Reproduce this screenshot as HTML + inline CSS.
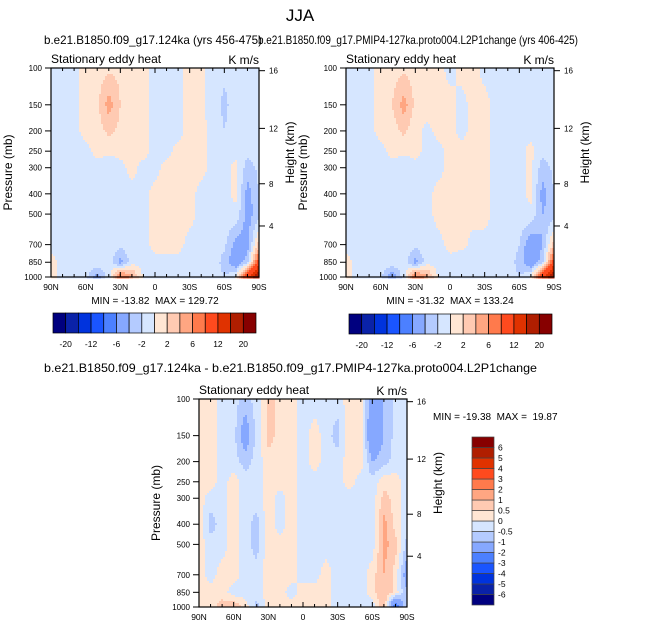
<!DOCTYPE html>
<html><head><meta charset="utf-8">
<style>
html,body{margin:0;padding:0;background:#fff;}
svg{display:block;font-family:"Liberation Sans",sans-serif;}
text{white-space:pre;}
</style></head>
<body>
<svg id="fig" width="647" height="630" viewBox="0 0 647 630" xmlns="http://www.w3.org/2000/svg">
<text x="300" y="21" font-size="17" text-anchor="middle">JJA</text>
<text x="44" y="44" font-size="12" textLength="218" lengthAdjust="spacingAndGlyphs">b.e21.B1850.f09_g17.124ka (yrs 456-475)</text>
<text x="258" y="44" font-size="12" textLength="320" lengthAdjust="spacingAndGlyphs">b.e21.B1850.f09_g17.PMIP4-127ka.proto004.L2P1change (yrs 406-425)</text>
<text x="44" y="372" font-size="12" textLength="493" lengthAdjust="spacingAndGlyphs">b.e21.B1850.f09_g17.124ka - b.e21.B1850.f09_g17.PMIP4-127ka.proto004.L2P1change</text>
<g id="p1"></g>
<g id="p2"></g>
<g id="p3"></g>
</svg>
<script>
const NS="http://www.w3.org/2000/svg";
const latitudes=[90,80,70,60,50,40,30,20,10,0,-10,-20,-30,-40,-50,-60,-70,-80,-90];
const pressureLevels=[100,150,200,250,300,400,500,700,850,1000];
const pressureTicks=[100,150,200,250,300,400,500,700,850,1000];
const heightTicks=[16,12,8,4];
const heightTickP=[103,194.5,358,570];
const latTickLabels=["90N","60N","30N","0","30S","60S","90S"];
const levelsTop=[-20,-16,-12,-8,-6,-4,-2,0,2,4,6,8,12,16,20];
const levelLabelsTop=["-20","-12","-6","-2","2","6","12","20"];
const levelsDiff=[-6,-5,-4,-3,-2,-1,-0.5,0,0.5,1,2,3,4,5,6];
const levelLabelsDiff=["-6","-5","-4","-3","-2","-1","-0.5","0","0.5","1","2","3","4","5","6"];
const colors=["#00007f","#0a22a8","#0033dd","#1a55ff","#4c80ff","#86a8ff","#b4cbff","#d6e6ff","#ffe6d4","#ffcab2","#ffa682","#ff7a4c","#ff4a1e","#e03200","#b01e00","#870000"];
const field124=[
[-0.5,-0.5,-0.5,0.5,1,1.5,1.5,1,0.5,-0.5,-0.5,-0.5,0.5,0.5,-1,-1.5,-1,-0.5,-0.5],
[-0.5,-0.5,-0.5,0.5,1.5,5,2,1,0.5,-0.5,-0.5,-0.5,0.5,0.5,-1,-2.5,-1,-0.5,-0.5],
[-0.5,-0.5,-0.5,0.5,1,2.5,1.5,0.5,0.5,-0.5,-0.5,-0.5,0.5,0.5,-0.5,-2,-1,-0.5,-0.5],
[-0.5,-0.5,-0.5,-0.5,0.5,0.5,0.5,0.5,0.5,-0.5,-0.5,0.5,0.5,0.5,-0.5,-0.5,-0.5,-1.5,-1],
[-0.5,-1.5,-0.5,-0.5,-0.5,-1.5,-0.5,0.5,-0.5,-0.5,0.5,0.5,0.5,0.5,-0.5,-0.5,0.5,-3,-1.5],
[-0.5,-1.5,-0.5,-0.5,-0.5,-1.5,-0.5,-0.5,-0.5,0.5,0.5,0.5,0.5,-0.5,-0.5,-0.5,0.5,-5,-2],
[-0.5,-0.5,-0.5,-0.5,-0.5,-0.5,-0.5,-0.5,-0.5,0.5,0.5,0.5,0.5,-0.5,-0.5,-0.5,-0.5,-5,-3],
[-0.5,-0.5,-0.5,-0.5,-0.5,-0.5,-1.5,-0.5,-0.5,0.5,0.5,0.5,-0.5,-0.5,-0.5,-1.5,-5,-5,3],
[0.5,-0.5,-0.5,-0.5,-0.5,-0.5,-5,-1,-0.5,-0.5,-0.5,-0.5,-0.5,-0.5,-0.5,-3,-6,-3,10],
[0.5,-0.5,-0.5,-1.5,-5,-1,8,5,-0.5,-0.5,-1,-1,-0.5,-0.5,-0.5,-2,0,12,20]];
const field127=[
[-0.5,-0.5,-0.5,0.5,1,1.5,1,1,0.5,-0.5,0.5,0.5,-0.5,-0.5,-0.5,-1.5,-0.5,-0.5,-0.5],
[-0.5,-0.5,-0.5,0.5,2,5,1.5,1,0.5,0.5,-0.5,0.5,0.5,-0.5,-0.5,-1.5,-0.5,-0.5,-0.5],
[-0.5,-0.5,-0.5,0.5,1,2.5,0.5,-0.5,0.5,0.5,-0.5,0.5,0.5,-0.5,-0.5,-0.5,-0.5,-0.5,-0.5],
[-0.5,-0.5,-0.5,-0.5,0.5,0.5,0.5,-0.5,-0.5,0.5,0.5,0.5,0.5,-0.5,-0.5,-0.5,0.5,-1.5,-1],
[-0.5,-1.5,-0.5,-0.5,-0.5,-1.5,-0.5,-0.5,-0.5,0.5,0.5,0.5,0.5,-0.5,-0.5,-0.5,0.5,-3,-1.5],
[-0.5,-1.5,-0.5,-0.5,-0.5,-1.5,-0.5,-0.5,0.5,0.5,0.5,0.5,0.5,-0.5,-0.5,-0.5,0.5,-5,-2],
[-0.5,-0.5,-0.5,-0.5,-0.5,-0.5,-0.5,-0.5,0.5,0.5,0.5,0.5,0.5,-0.5,-0.5,-0.5,-0.5,-4,-3],
[-0.5,-0.5,-0.5,-0.5,-0.5,-0.5,-1.5,-0.5,-0.5,0.5,0.5,-0.5,-0.5,-0.5,-0.5,-2,-6,-4,3],
[0.5,-0.5,-0.5,-0.5,-0.5,-0.5,-5,-1,-0.5,-0.5,-1,-1,-0.5,-0.5,-0.5,-3,-6,-3,10],
[0.5,-0.5,-0.5,-1.5,-6,-1,8,5,-0.5,-0.5,-1.5,-1,-0.5,-0.5,-0.5,-2,0,12,20]];
const fieldDiff=[
[0.3,0.3,-0.3,-0.3,-0.7,-0.3,0.7,0.3,0.3,-0.3,-0.3,-0.3,-0.3,0.3,0.3,-1.5,-1,-0.3,-0.3],
[0.3,0.3,-0.3,-0.3,-1.5,-0.3,0.7,0.3,0.3,-0.3,0.3,-0.3,-0.7,0.3,0.3,-2,-1,-0.3,-0.3],
[0.3,0.3,-0.3,-0.3,-0.7,-0.3,0.3,0.3,0.3,-0.3,0.3,-0.3,-0.3,0.3,0.3,-1,-0.7,-0.3,-0.3],
[0.3,0.3,-0.3,0.3,-0.3,-0.3,0.3,0.3,0.3,-0.3,-0.3,-0.3,-0.3,0.3,-0.3,-0.3,0.3,0.3,-0.3],
[0.3,-0.3,-0.3,0.3,-0.3,-0.3,0.3,-0.3,0.3,-0.3,-0.3,-0.3,-0.3,-0.3,-0.3,-0.3,0.7,0.3,-0.3],
[0.3,-0.7,-0.3,0.3,-0.3,-0.7,0.3,-0.3,0.3,-0.3,-0.3,-0.3,-0.3,-0.3,-0.3,-0.3,1.2,0.3,-0.3],
[0.3,-0.3,-0.3,0.3,-0.3,-0.7,0.3,0.3,0.3,-0.3,-0.3,-0.3,-0.3,-0.3,-0.3,-0.3,1.2,0.7,-0.7],
[0.3,-0.3,0.3,0.3,-0.3,-0.3,0.3,0.3,0.3,-0.3,-0.3,0.3,-0.3,-0.3,-0.3,0.3,1,0.3,-1.5],
[0.3,0.3,0.3,-0.3,-0.3,-0.3,0.3,0.3,-0.3,0.3,0.3,0.3,-0.3,-0.3,-0.3,0.3,1,0.3,-1],
[0.3,0.3,0.7,1,0.3,-0.7,0.3,0.3,0.3,0.3,0.3,0.3,-0.3,-0.3,-0.3,-0.3,1,-3,-0.3]];

function mk(parent,tag,attrs,txt){const e=document.createElementNS(NS,tag);for(const k in attrs)e.setAttribute(k,attrs[k]);if(txt!==undefined)e.textContent=txt;parent.appendChild(e);return e;}
function colorFor(v,levels){let i=0;while(i<levels.length&&v>=levels[i])i++;return colors[i];}
function sample(field,lat,p){
  let j=(90-lat)/10; j=Math.max(0,Math.min(17.9999,j));
  const lp=Math.log10(p); let i=0;
  while(i<pressureLevels.length-2&&Math.log10(pressureLevels[i+1])<lp)i++;
  const a=Math.log10(pressureLevels[i]),b=Math.log10(pressureLevels[i+1]);
  let t=(lp-a)/(b-a);t=Math.max(0,Math.min(1,t));
  const j0=Math.floor(j),u=j-j0;
  const r0=field[i][j0]*(1-u)+field[i][j0+1]*u;
  const r1=field[i+1][j0]*(1-u)+field[i+1][j0+1]*u;
  return r0*(1-t)+r1*t;
}
function drawPanel(g,x0,y0,w,h,field,levels,name){
  const xS=lat=>x0+(90-lat)/180*w;
  const yS=p=>y0+(Math.log10(p)-2)*h;
  const cells=mk(g,'g',{});
  
  
  const step=2;
  for(let py=0;py<h;py+=step){
    const p=Math.pow(10,2+(py+step/2)/h);
    let runStart=0,runCol=null;
    for(let px=0;px<=w;px+=step){
      let c=null;
      if(px<w){const lat=90-(px+step/2)/w*180;c=colorFor(sample(field,lat,p),levels);}
      if(c!==runCol){
        if(runCol!==null){const r=mk(cells,'rect',{x:x0+runStart,y:y0+py,width:px-runStart+0.5,height:step+0.5,fill:runCol});
          }
        runCol=c;runStart=px;
      }
    }
  }
  const fr=mk(g,'rect',{x:x0,y:y0,width:w,height:h,fill:'none',stroke:'#000','stroke-width':1.2});
  
  const ax=mk(g,'g',{stroke:'#000','stroke-width':1});
  
  for(let lat=90;lat>=-90;lat-=10){
    const x=xS(lat),maj=(lat%30===0);const L=maj?5:3;
    mk(ax,'line',{x1:x,y1:y0+h,x2:x,y2:y0+h-L});
    mk(ax,'line',{x1:x,y1:y0,x2:x,y2:y0+L});
  }
  latTickLabels.forEach((lb,i)=>{
    const t=mk(g,'text',{x:xS(90-i*30),y:y0+h+13,'font-size':8.5,'text-anchor':'middle'},lb);
    
  });
  pressureTicks.forEach(p=>{
    const y=yS(p);mk(ax,'line',{x1:x0-6,y1:y,x2:x0,y2:y});
    const t=mk(g,'text',{x:x0-9,y:y+3,'font-size':8,'text-anchor':'end'},String(p));
    
  });
  heightTicks.forEach((hk,i)=>{
    const y=yS(heightTickP[i]);mk(ax,'line',{x1:x0+w,y1:y,x2:x0+w+6,y2:y});
    const t=mk(g,'text',{x:x0+w+10,y:y+3,'font-size':8},String(hk));
    
  });
  const yl=mk(g,'text',{x:0,y:0,'font-size':12,'text-anchor':'middle',transform:`translate(${x0-39},${y0+h/2}) rotate(-90)`},'Pressure (mb)');
  
  const hl=mk(g,'text',{x:0,y:0,'font-size':12,'text-anchor':'middle',transform:`translate(${x0+w+35},${y0+h/2-20}) rotate(-90)`},'Height (km)');
  
  const st=mk(g,'text',{x:x0,y:y0-5,'font-size':12},'Stationary eddy heat');
  
  const un=mk(g,'text',{x:x0+w,y:y0-4,'font-size':12,'text-anchor':'end'},'K m/s');
  
}
function hColorbar(g,x0,y0,w,h,labels,name){
  const n=colors.length,bw=w/n;
  colors.forEach((c,i)=>{const r=mk(g,'rect',{x:x0+i*bw,y:y0,width:bw,height:h,fill:c,stroke:'#000','stroke-width':0.7});
    });
  labels.forEach((lb,k)=>{const t=mk(g,'text',{x:x0+(1+2*k)*bw,y:y0+h+14,'font-size':8.5,'text-anchor':'middle'},lb);
    });
}
function vColorbar(g,x0,y0,w,h,labels){
  const n=colors.length,bh=h/n;
  colors.forEach((c,i)=>{const r=mk(g,'rect',{x:x0,y:y0+(n-1-i)*bh,width:w,height:bh,fill:c,stroke:'#444','stroke-width':0.7});
    });
  labels.forEach((lb,k)=>{const t=mk(g,'text',{x:x0+w+4,y:y0+(n-1-k)*bh+3,'font-size':8.5},lb);
    });
}
const p1=document.getElementById('p1'),p2=document.getElementById('p2'),p3=document.getElementById('p3');
drawPanel(p1,51,68,208,209,field124,levelsTop,'panel1');
drawPanel(p2,346,68,208,209,field127,levelsTop,'panel2');
drawPanel(p3,199,399,208,208,fieldDiff,levelsDiff,'panel3');
let t;
t=mk(p1,'text',{x:155,y:304,'font-size':10,'text-anchor':'middle'},'MIN = -13.82  MAX = 129.72');

t=mk(p2,'text',{x:450,y:304,'font-size':10,'text-anchor':'middle'},'MIN = -31.32  MAX = 133.24');

t=mk(p3,'text',{x:433,y:420,'font-size':10},'MIN = -19.38  MAX =  19.87');

hColorbar(p1,53,313,203,20,levelLabelsTop,'colorbar1');
hColorbar(p2,349,314,203,20,levelLabelsTop,'colorbar2');
vColorbar(p3,472,437,22,168,levelLabelsDiff);
</script>
</body></html>
